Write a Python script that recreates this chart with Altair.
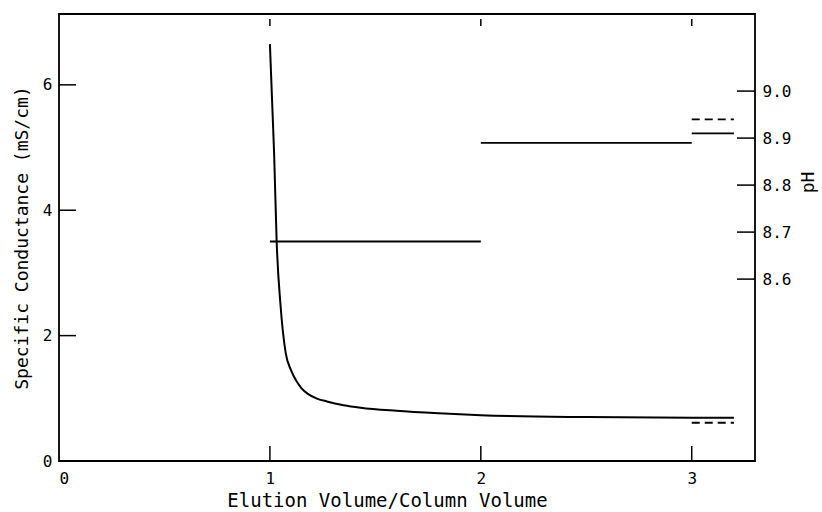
import altair as alt
import pandas as pd

# Conductance curve (mS/cm) vs elution volume / column volume
cond_x = [1.0, 1.012, 1.02, 1.032, 1.05, 1.075, 1.1, 1.125, 1.15, 1.18, 1.22, 1.27, 1.35, 1.43, 1.6, 1.8, 2.0, 2.5, 3.0, 3.2]
cond_y = [6.65, 5.6, 4.9, 3.5, 2.5, 1.72, 1.45, 1.28, 1.16, 1.07, 1.0, 0.95, 0.89, 0.85, 0.80, 0.76, 0.73, 0.70, 0.69, 0.69]

# dashed conductance segment
cond_dash_x = [3.0, 3.2]
cond_dash_y = [0.61, 0.61]

# pH step segments (solid)
ph_start = [1.0, 2.0, 3.0]
ph_end = [2.0, 3.0, 3.2]
ph_val = [8.68, 8.89, 8.91]

# dashed pH segment
ph_dash_start = [3.0]
ph_dash_end = [3.2]
ph_dash_val = [8.94]

x_ticks = [1, 2, 3]
cond_ticks = [2, 4, 6]
ph_ticks = [8.6, 8.7, 8.8, 8.9, 9.0]

W, H = 696, 447
FONT = "DejaVu Sans Mono"
X_DOM = [0, 3.3]
C_DOM = [0, 7.13]
P_DOM = [8.213, 9.164]

xs = alt.Scale(domain=X_DOM, nice=False, zero=False)
cs = alt.Scale(domain=C_DOM, nice=False, zero=False)
ps = alt.Scale(domain=P_DOM, nice=False, zero=False)

df_c = pd.DataFrame({"x": cond_x, "c": cond_y})
df_cd = pd.DataFrame({"x": cond_dash_x, "c": cond_dash_y})
df_p = pd.DataFrame({"x": ph_start, "x2": ph_end, "p": ph_val})
df_pd = pd.DataFrame({"x": ph_dash_start, "x2": ph_dash_end, "p": ph_dash_val})
df_xt = pd.DataFrame({"x": x_ticks})
df_ct = pd.DataFrame({"c": cond_ticks})
df_pt = pd.DataFrame({"p": ph_ticks})

x_axis = alt.Axis(
    title="Elution Volume/Column Volume", values=[0, 1, 2, 3], format="d",
    orient="bottom", ticks=False, tickSize=0, domain=False, grid=False, labelPadding=9,
    labelFontSize=16, titleFontSize=19, titleFontWeight="normal",
    labelFont=FONT, titleFont=FONT, labelColor="black", titleColor="black", titlePadding=5,
    titleX=328,
)
c_axis = alt.Axis(
    title="Specific Conductance (mS/cm)", values=[0, 2, 4, 6], format="d",
    orient="left", ticks=False, tickSize=0, domain=False, grid=False, labelPadding=7,
    labelFontSize=16, titleFontSize=18, titleFontWeight="normal",
    labelFont=FONT, titleFont=FONT, labelColor="black", titleColor="black", titlePadding=11,
)
p_axis = alt.Axis(
    title="pH", values=ph_ticks, format=".1f",
    orient="right", ticks=False, tickSize=0, domain=False, grid=False, labelPadding=7,
    labelFontSize=16, titleFontSize=18, titleFontWeight="normal",
    labelFont=FONT, titleFont=FONT, labelColor="black", titleColor="black",
    titleAngle=270, titleX=62, titleY=168,
)

X = alt.X("x:Q", scale=xs, axis=x_axis)
YC = alt.Y("c:Q", scale=cs, axis=c_axis)
YP = alt.Y("p:Q", scale=ps, axis=p_axis)

cond_line = alt.Chart(df_c).mark_line(color="black", strokeWidth=2, interpolate="monotone").encode(
    x=X, y=YC,
)
cond_dash = alt.Chart(df_cd).mark_line(color="black", strokeWidth=1.8, strokeDash=[8, 5]).encode(
    x=X, y=YC,
)
left_ticks = alt.Chart(df_ct).mark_rule(color="black", strokeWidth=1.5).encode(
    y=YC, x=alt.value(0), x2=alt.value(17),
)
bottom_ticks = alt.Chart(df_xt).mark_rule(color="black", strokeWidth=1.5).encode(
    x=X, y=alt.value(H), y2=alt.value(H - 15),
)
top_ticks = alt.Chart(df_xt).mark_rule(color="black", strokeWidth=1.5).encode(
    x=X, y=alt.value(5), y2=alt.value(12),
)

left = alt.layer(cond_line, cond_dash, left_ticks, bottom_ticks, top_ticks)

ph_line = alt.Chart(df_p).mark_rule(color="black", strokeWidth=1.8).encode(
    x=X, x2="x2:Q", y=YP,
)
ph_dash = alt.Chart(df_pd).mark_rule(color="black", strokeWidth=1.8, strokeDash=[8, 5]).encode(
    x=X, x2="x2:Q", y=YP,
)
right_ticks = alt.Chart(df_pt).mark_rule(color="black", strokeWidth=1.5).encode(
    y=YP, x=alt.value(W - 18), x2=alt.value(W),
)

right = alt.layer(ph_line, ph_dash, right_ticks)

chart = alt.layer(left, right).resolve_scale(y="independent").properties(
    width=W, height=H,
    autosize=alt.AutoSizeParams(type="none"),
    padding={"left": 59, "top": 14, "right": 67, "bottom": 51},
    background="white",
).configure_view(stroke="black", strokeWidth=1.8)

chart.save("out.html", embed_options={"renderer": "svg", "actions": False})
